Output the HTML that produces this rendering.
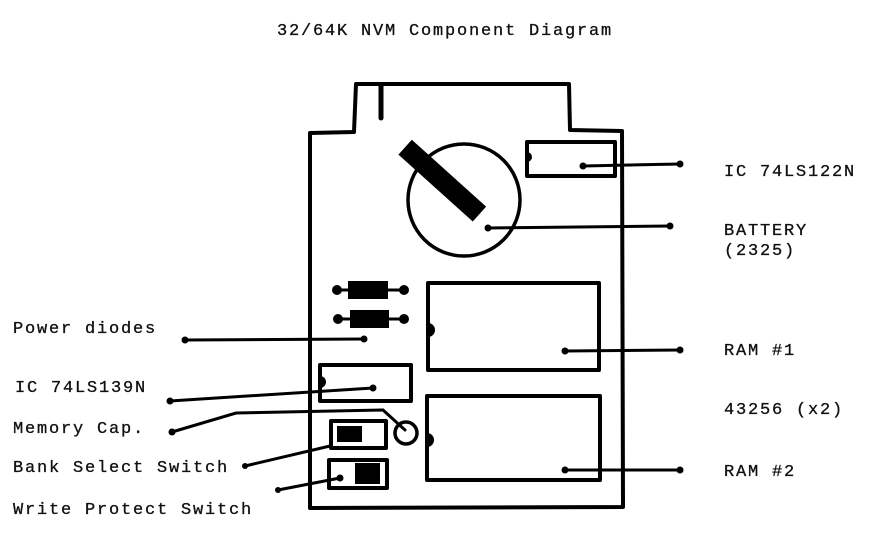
<!DOCTYPE html>
<html><head><meta charset="utf-8"><style>
html,body{margin:0;padding:0;background:#fff;}
svg{display:block;}
text{font-family:"Liberation Mono",monospace;font-size:17px;letter-spacing:1.8px;fill:#111;stroke:#111;stroke-width:0.3px;}
</style></head><body>
<svg width="881" height="551" viewBox="0 0 881 551" xmlns="http://www.w3.org/2000/svg">
<g fill="none" stroke="#000" stroke-width="4" stroke-linejoin="round" stroke-linecap="round">
<path d="M310 508 L310 133 L354 132 L356 84 L569 84 L570 130 L622 131 L623 507 Z"/>
<line x1="381" y1="86" x2="381" y2="118" stroke-width="5"/>
<circle cx="464" cy="200" r="56" stroke-width="3.5"/>
<rect x="527" y="142" width="88" height="34"/>
<rect x="428" y="283" width="171" height="87"/>
<rect x="427" y="396" width="173" height="84"/>
<rect x="320" y="365" width="91" height="36"/>
<rect x="331" y="421" width="55" height="27"/>
<rect x="329" y="460" width="58" height="28"/>
<circle cx="406" cy="433" r="11" stroke-width="3.5"/>
</g>
<g stroke="#000" stroke-width="3" fill="none" stroke-linecap="round">
<line x1="583" y1="166" x2="680" y2="164"/>
<line x1="488" y1="228" x2="670" y2="226"/>
<line x1="565" y1="351" x2="680" y2="350"/>
<line x1="565" y1="470" x2="680" y2="470"/>
<line x1="185" y1="340" x2="364" y2="339"/>
<line x1="170" y1="401" x2="373" y2="388"/>
<polyline points="172,432 236,413 383,410 405,430"/>
<line x1="245" y1="466" x2="330" y2="446"/>
<line x1="278" y1="490" x2="340" y2="478"/>
<line x1="337" y1="290" x2="405" y2="290"/>
<line x1="338" y1="319" x2="405" y2="319"/>
</g>
<g fill="#000">
<circle cx="583" cy="166" r="3.5"/><circle cx="680" cy="164" r="3.5"/>
<circle cx="488" cy="228" r="3.5"/><circle cx="670" cy="226" r="3.5"/>
<circle cx="565" cy="351" r="3.5"/><circle cx="680" cy="350" r="3.5"/>
<circle cx="565" cy="470" r="3.5"/><circle cx="680" cy="470" r="3.5"/>
<circle cx="185" cy="340" r="3.5"/><circle cx="364" cy="339" r="3.5"/>
<circle cx="170" cy="401" r="3.5"/><circle cx="373" cy="388" r="3.5"/>
<circle cx="172" cy="432" r="3.5"/><circle cx="245" cy="466" r="3"/>
<circle cx="278" cy="490" r="3"/><circle cx="340" cy="478" r="3.5"/>
<circle cx="337" cy="290" r="5"/><circle cx="404" cy="290" r="5"/>
<circle cx="338" cy="319" r="5"/><circle cx="404" cy="319" r="5"/>
<rect x="348" y="281" width="40" height="18"/>
<rect x="350" y="310" width="39" height="18"/>
<rect x="337" y="426" width="25" height="16"/>
<rect x="355" y="463" width="25" height="21"/>
<path d="M428 323 a7 7 0 0 1 0 14 Z"/>
<path d="M427 433 a7 7 0 0 1 0 14 Z"/>
<path d="M320 376 a6 6 0 0 1 0 12 Z"/>
<path d="M527 152 a5 5 0 0 1 0 10 Z"/>
<g transform="translate(446,184) rotate(42)">
<rect x="-55" y="-10" width="100" height="20"/>
</g>
</g>
<text x="277" y="35">32/64K NVM Component Diagram</text>
<text x="724" y="176">IC 74LS122N</text>
<text x="724" y="235">BATTERY</text>
<text x="724" y="255">(2325)</text>
<text x="724" y="355">RAM #1</text>
<text x="724" y="414">43256 (x2)</text>
<text x="724" y="476">RAM #2</text>
<text x="13" y="333">Power diodes</text>
<text x="15" y="392">IC 74LS139N</text>
<text x="13" y="433">Memory Cap.</text>
<text x="13" y="472">Bank Select Switch</text>
<text x="13" y="514">Write Protect Switch</text>
</svg>
</body></html>
